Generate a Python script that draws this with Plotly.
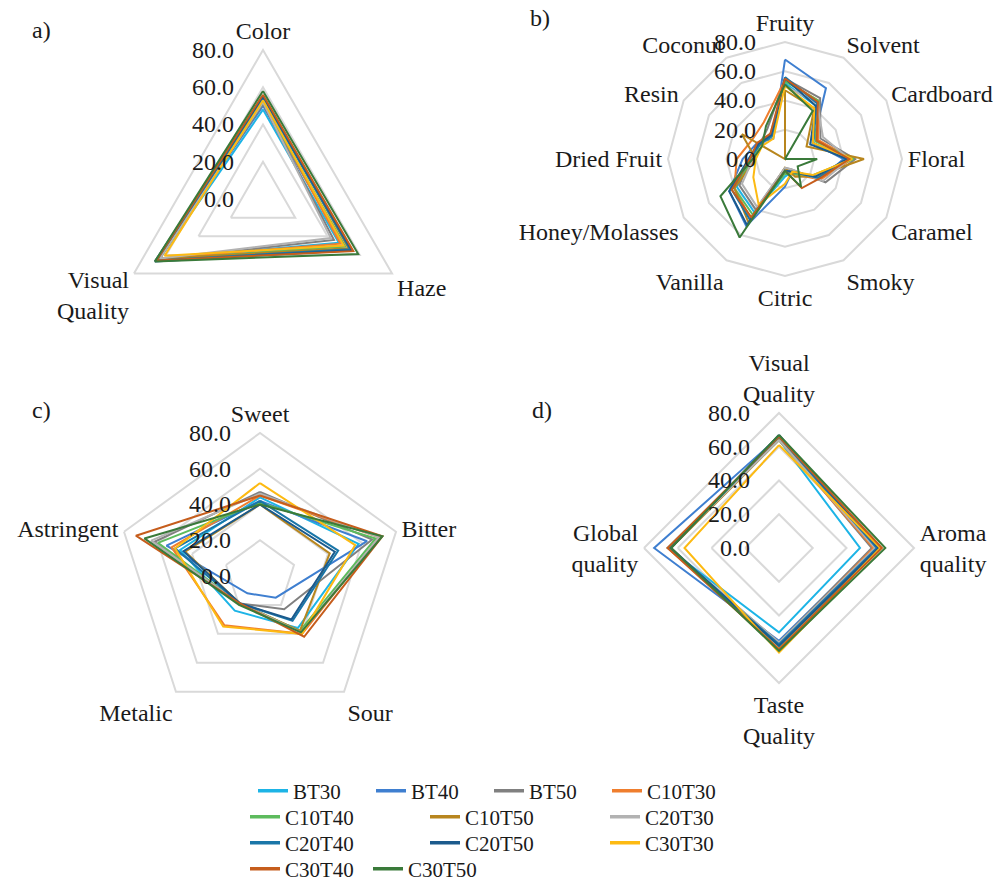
import plotly.graph_objects as go

series = ["BT30", "BT40", "BT50", "C10T30", "C10T40", "C10T50",
          "C20T30", "C20T40", "C20T50", "C30T30", "C30T40", "C30T50"]
colors = ["#1DB4E6", "#3F7FD0", "#808080", "#EF7E2E", "#5DBB5D", "#B8861E",
          "#B2B2B2", "#1A76A8", "#1B5A8C", "#FDBA12", "#C65D1C", "#3A7A3A"]

cats_a = ["Color", "Haze", "Visual<br>Quality"]
vals_a = [
    [48, 47, 64], [50, 50, 66], [51, 44, 65], [53, 48, 64],
    [52, 51, 65], [55, 53, 64], [52, 42, 64], [54, 54, 66],
    [55, 55, 67], [53, 50, 61], [56, 56, 66], [58, 59, 67],
]

cats_b = ["Fruity", "Solvent", "Cardboard", "Floral", "Caramel", "Smoky",
          "Citric", "Vanilla", "Honey/Molasses", "Dried Fruit", "Resin", "Coconut"]
vals_b = [
    [52, 42, 22, 45, 25, 10, 12, 42, 38, 24, 20, 18],
    [68, 56, 22, 40, 28, 10, 19, 53, 44, 29, 22, 16],
    [55, 48, 28, 48, 32, 8, 6, 40, 36, 24, 20, 24],
    [54, 46, 26, 46, 28, 12, 8, 47, 40, 33, 26, 29],
    [53, 46, 24, 47, 22, 12, 10, 44, 40, 22, 20, 18],
    [47, 40, 17, 54, 24, 14, 6, 50, 40, 20, 34, 0],
    [50, 44, 30, 44, 30, 8, 6, 38, 34, 22, 18, 20],
    [56, 44, 22, 42, 26, 10, 8, 48, 42, 24, 20, 18],
    [55, 42, 20, 43, 24, 10, 8, 52, 44, 25, 21, 19],
    [50, 40, 22, 46, 22, 10, 17, 36, 25, 20, 18, 16],
    [55, 45, 25, 44, 27, 23, 8, 46, 42, 24, 22, 20],
    [51, 38, 0, 22, 10, 22, 8, 62, 51, 22, 18, 26],
]

cats_c = ["Sweet", "Bitter", "Sour", "Metalic", "Astringent"]
vals_c = [
    [44, 58, 36, 24, 47], [42, 63, 15, 12, 55], [47, 66, 23, 19, 62],
    [45, 70, 40, 34, 52], [41, 68, 38, 19, 60], [40, 41, 38, 19, 44],
    [46, 70, 39, 19, 64], [42, 46, 31, 19, 50], [40, 44, 30, 19, 45],
    [52, 56, 40, 35, 50], [45, 72, 42, 19, 73], [40, 72, 39, 20, 68],
]

cats_d = ["Visual<br>Quality", "Aroma<br>quality", "Taste<br>Quality", "Global<br>quality"]
vals_d = [
    [64, 48, 50, 66], [66, 56, 55, 74], [65, 55, 56, 65], [64, 56, 57, 66],
    [64, 59, 58, 65], [64, 60, 60, 64], [64, 57, 56, 65], [66, 58, 57, 65],
    [67, 59, 58, 64], [61, 60, 62, 56], [66, 61, 60, 66], [67, 63, 61, 64],
]

radial_ticks = [0, 20, 40, 60, 80]
legend_rows = [[0, 1, 2, 3], [4, 5, 6], [7, 8, 9], [10, 11]]

W, H = 1000, 886
FONT = "Liberation Serif, DejaVu Serif, serif"
GRID = "#D9D9D9"
TXT = "#1a1a1a"
FS = 24


def dom(cx, cy, r):
    return dict(x=[(cx - r) / W, (cx + r) / W], y=[1 - (cy + r) / H, 1 - (cy - r) / H])


panels = [
    ("polar", cats_a, vals_a, dom(263, 199, 149)),
    ("polar2", cats_b, vals_b, dom(785, 159, 117)),
    ("polar3", cats_c, vals_c, dom(260, 576, 143)),
    ("polar4", cats_d, vals_d, dom(779, 548, 135)),
]

legend_of = {}
for ri, row in enumerate(legend_rows):
    for i in row:
        legend_of[i] = "legend" if ri == 0 else "legend%d" % (ri + 1)

fig = go.Figure()
for pi, (pname, cats, vals, d) in enumerate(panels):
    for i, s in enumerate(series):
        r = list(vals[i]) + [vals[i][0]]
        th = list(cats) + [cats[0]]
        fig.add_trace(go.Scatterpolar(
            r=r, theta=th, mode="lines", name=s, subplot=pname,
            line=dict(color=colors[i], width=2),
            showlegend=False, legend=legend_of[i],
        ))

# legend entries (thicker line symbols, as in the reference)
for i, s in enumerate(series):
    fig.add_trace(go.Scatterpolar(
        r=[None], theta=[cats_a[0]], mode="lines", name=s, subplot="polar",
        line=dict(color=colors[i], width=3.5), showlegend=True,
        legend=legend_of[i], hoverinfo="skip",
    ))

layout_polars = {}
for pname, cats, vals, d in panels:
    layout_polars[pname] = dict(
        domain=d,
        gridshape="linear",
        bgcolor="white",
        angularaxis=dict(
            type="category", categoryarray=cats, direction="clockwise", rotation=90,
            showgrid=False, showline=True, linecolor=GRID, linewidth=2,
            ticks="", tickfont=dict(family=FONT, size=FS, color=TXT),
        ),
        radialaxis=dict(
            range=[0, 80], tickvals=radial_ticks, tickformat=".1f", angle=90,
            showline=False, gridcolor=GRID, gridwidth=2,
            ticks="outside", ticklen=20, tickcolor="rgba(0,0,0,0)",
            tickfont=dict(family=FONT, size=FS, color=TXT),
            side="counterclockwise", tickangle=90,
        ),
    )

leg_common = dict(orientation="h", font=dict(family=FONT, size=21, color=TXT),
                  bgcolor="rgba(0,0,0,0)", borderwidth=0, xanchor="left",
                  yanchor="middle", tracegroupgap=0, itemwidth=30)
fig.update_layout(
    width=W, height=H, margin=dict(l=0, r=0, t=0, b=0, autoexpand=False),
    paper_bgcolor="white", plot_bgcolor="white",
    font=dict(family=FONT, size=FS, color=TXT),
    legend=dict(x=253 / W, y=1 - 791 / H, entrywidth=118 - 45, **leg_common),
    legend2=dict(x=245 / W, y=1 - 817 / H, entrywidth=180 - 45, **leg_common),
    legend3=dict(x=245 / W, y=1 - 843 / H, entrywidth=180 - 45, **leg_common),
    legend4=dict(x=245 / W, y=1 - 869 / H, entrywidth=123 - 45, **leg_common),
    annotations=[
        dict(text=t, x=x / W, y=1 - y / H, xref="paper", yref="paper",
             xanchor="center", yanchor="middle",
             showarrow=False, font=dict(family=FONT, size=FS, color=TXT))
        for t, x, y in [("a)", 41, 30), ("b)", 540, 18), ("c)", 41, 410), ("d)", 542, 410)]
    ],
    **layout_polars,
)
fig.write_html("out.html", config={"displayModeBar": False},
               post_script="document.body.style.margin='0';document.body.style.overflow='hidden';")
